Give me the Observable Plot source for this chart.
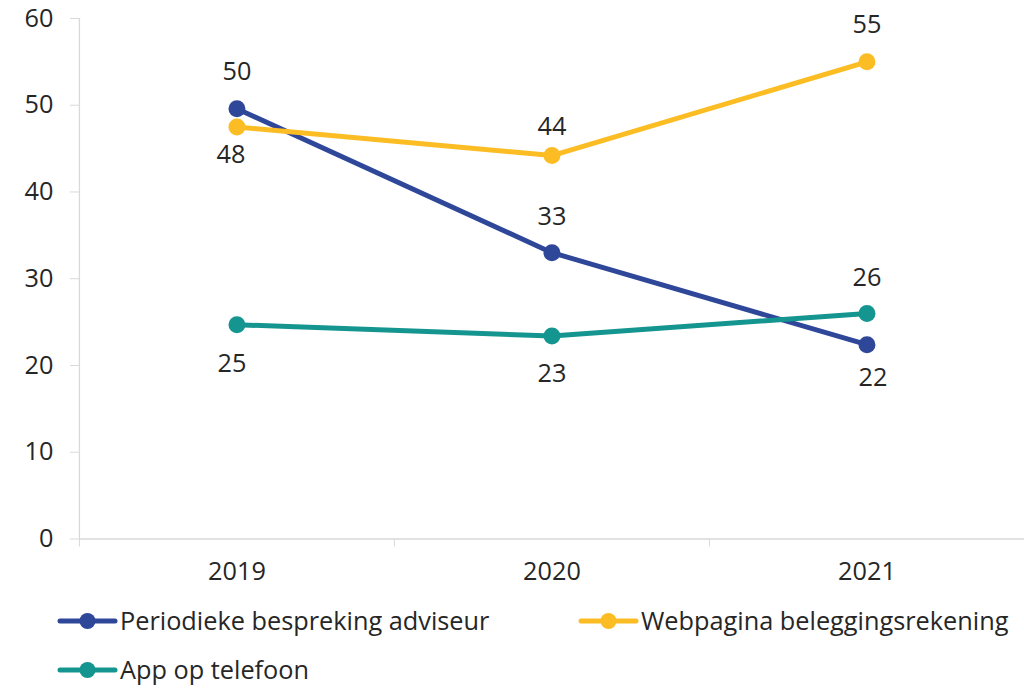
<!DOCTYPE html>
<html><head><meta charset="utf-8">
<script src="https://cdn.jsdelivr.net/npm/d3@7"></script>
<script src="https://cdn.jsdelivr.net/npm/@observablehq/plot@0.6"></script>
<style>
body{margin:0;background:#fff;overflow:hidden;font-family:"Open Sans",sans-serif;}
#legend{display:grid;grid-template-columns:521px 521px;grid-template-rows:55px 43px;padding-left:60px;}
.item{display:flex;align-items:center;font-size:25.3px;line-height:1;color:#262626;white-space:nowrap;}
.item svg{margin-right:5px;overflow:visible;flex:none;}
</style></head><body><div id="chart"></div><div id="legend"></div>
<script>
const years = [2019, 2020, 2021];
const seriesNames = ["Periodieke bespreking adviseur", "Webpagina beleggingsrekening", "App op telefoon"];
const periodiekeValues = [49.6, 33.0, 22.4];
const webpaginaValues = [47.5, 44.2, 55.0];
const appValues = [24.7, 23.4, 26.0];
const yTicks = [0, 10, 20, 30, 40, 50, 60];
const colors = ["#2F4799", "#FBBD23", "#159590"];

// label offsets (style, not data): [dx, dy] per series per year
const labelOffsets = [
  [[0, -37], [0, -36], [6, 33]],
  [[-6, 28], [0, -29], [0, -37]],
  [[-5, 39], [0, 38], [0, -36]]
];

const valuesBySeries = [periodiekeValues, webpaginaValues, appValues];
const rows = [];
valuesBySeries.forEach((vals, si) => {
  vals.forEach((v, yi) => rows.push({series: seriesNames[si], year: years[yi], value: v, si, yi}));
});
const boundaries = [...years.map(y => y - 0.5), years[years.length - 1] + 0.5];
const grid = "#d9d9d9";
const ink = "#262626";
const fs = 25.3;

const labelMarks = rows.map(r => Plot.text([r], {
  x: "year", y: "value", text: d => String(Math.round(d.value)),
  dx: labelOffsets[r.si][r.yi][0], dy: labelOffsets[r.si][r.yi][1],
  fill: ink, fontSize: fs
}));

const chart = Plot.plot({
  width: 1025, height: 594,
  marginLeft: 79, marginRight: 0, marginTop: 18, marginBottom: 55,
  style: {fontFamily: "'Open Sans', sans-serif", fontSize: fs + "px", color: ink, background: "transparent", overflow: "visible"},
  x: {type: "linear", domain: [boundaries[0], boundaries[boundaries.length - 1]]},
  y: {domain: [0, 60]},
  color: {domain: seriesNames, range: colors},
  marks: [
    Plot.ruleX([boundaries[0]], {stroke: grid, strokeWidth: 1.3}),
    Plot.ruleY([0], {stroke: grid, strokeWidth: 1.5}),
    Plot.axisY(yTicks, {tickSize: 9, tickPadding: 17, stroke: grid, fill: ink, label: null, fontSize: fs}),
    Plot.axisX(boundaries, {tickSize: 8, tickFormat: () => "", stroke: grid, label: null}),
    Plot.axisX(years, {tickSize: 0, tickPadding: 23, tickFormat: "d", fill: ink, label: null, fontSize: fs}),
    Plot.line(rows, {x: "year", y: "value", stroke: "series", z: "series", strokeWidth: 5}),
    Plot.dot(rows, {x: "year", y: "value", fill: "series", r: 8.5}),
    ...labelMarks
  ]
});
document.getElementById("chart").appendChild(chart);

const legend = document.getElementById("legend");
seriesNames.forEach((name, i) => {
  const item = document.createElement("div");
  item.className = "item";
  item.innerHTML = `<svg width="55" height="20"><line x1="0" x2="55" y1="10" y2="10" stroke="${colors[i]}" stroke-width="5" stroke-linecap="round"/><circle cx="27.5" cy="10" r="8" fill="${colors[i]}"/></svg><span>${name}</span>`;
  legend.appendChild(item);
});
</script></body></html>
